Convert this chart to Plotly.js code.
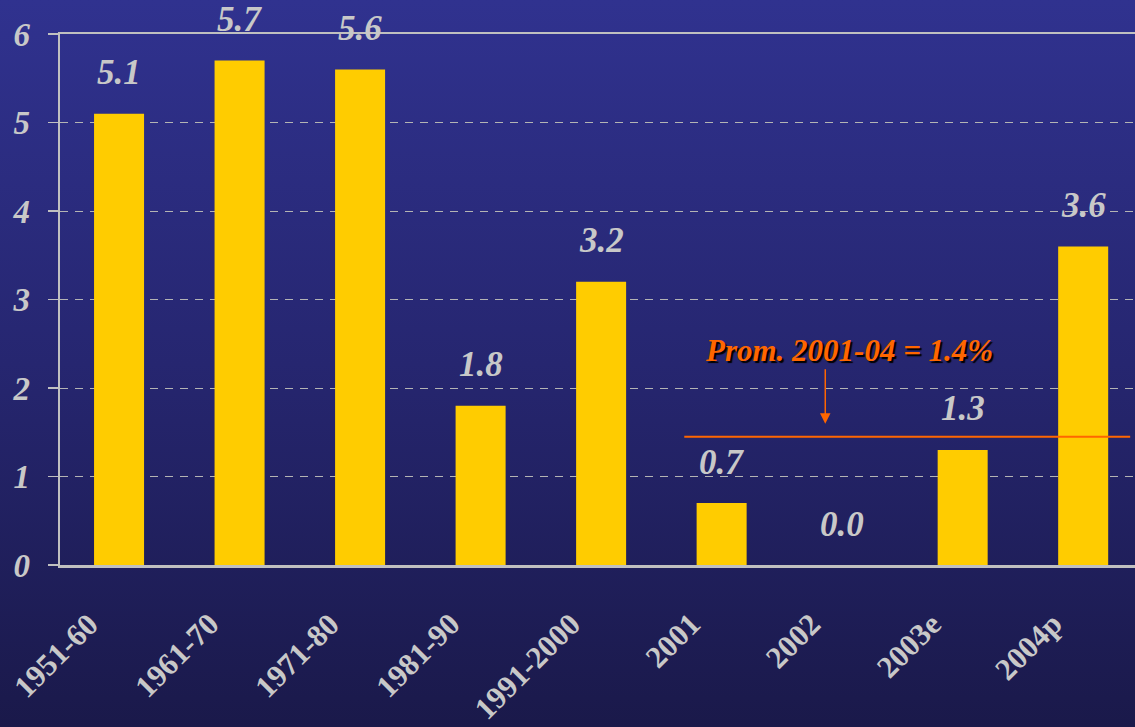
<!DOCTYPE html>
<html>
<head>
<meta charset="utf-8">
<script src="https://cdn.plot.ly/plotly-3.0.1.min.js"></script>
<style>
  html, body { margin:0; padding:0; width:1135px; height:727px; overflow:hidden;
    background: linear-gradient(to bottom, #30328F 0%, #262670 50%, #1A194A 100%); }
  #chart { width:1135px; height:727px; }
</style>
</head>
<body>
<div id="chart"></div>
<script>
const categories = ['1951-60','1961-70','1971-80','1981-90','1991-2000','2001','2002','2003e','2004p'];
const values = [5.1, 5.7, 5.6, 1.8, 3.2, 0.7, 0.0, 1.3, 3.6];
const valueLabels = ['5.1','5.7','5.6','1.8','3.2','0.7','0.0','1.3','3.6'];
const yTicks = [0,1,2,3,4,5,6];
const avgValue = 1.45;
const avgText = 'Prom. 2001-04 = 1.4%';

const gray = '#C8C8C8';
const orange = '#FF6600';
const serif = '"Liberation Serif", "Times New Roman", serif';

const idx = c => categories.indexOf(c);

const trace = {
  type: 'bar',
  x: categories.map((c,i)=>i),
  y: values,
  marker: { color: '#FFCC00', line: {width:0} },
  hoverinfo: 'none'
};

const annotations = values.map((v,i)=>({
  x: i, y: v, xref:'x', yref:'y', text: valueLabels[i], showarrow:false,
  yanchor:'middle', yshift: 41,
  font: { family: serif, size: 35, color: gray, weight: 'bold', style: 'italic' }
}));

// category labels, rotated, text end near each bar's position
categories.forEach((c,i)=>{
  annotations.push({
    x: i, y: 0, xref:'x', yref:'y', text: c, showarrow:false,
    textangle: -45, xanchor:'right', yanchor:'top',
    xshift: -13, yshift: -40, borderpad: 0,
    font: { family: serif, size: 31, color: gray, weight: 'bold' }
  });
});

annotations.push({
  x: idx('2002') - 0.14, y: avgValue, xref:'x', yref:'y', text:'', showarrow:true,
  ax: 0, ay: -69, arrowhead: 2, arrowsize: 1.4, arrowwidth: 1.5, arrowcolor: orange, standoff: 13
});
annotations.push({
  x: idx('2002') + 0.06, y: avgValue, xref:'x', yref:'y', text: avgText, showarrow:false,
  yanchor:'middle', yshift: 86,
  font: { family: serif, size: 31, color: orange, weight: 'bold', style: 'italic', shadow: '2px 2px 1px #000000' }
});

const layout = {
  width: 1135, height: 727,
  margin: { l: 60, r: 0, t: 34, b: 162 },
  paper_bgcolor: 'rgba(0,0,0,0)',
  plot_bgcolor: 'rgba(0,0,0,0)',
  bargap: 0.585,
  showlegend: false,
  xaxis: {
    range: [-0.49, 8.43],
    tickmode: 'array', tickvals: categories.map((c,i)=>i), ticktext: categories,
    showticklabels: false, ticks: '',
    showgrid: false, zeroline: false,
    showline: true, linecolor: '#C0C0C0', linewidth: 2.5, mirror: true
  },
  yaxis: {
    range: [0, 6],
    tickmode: 'array', tickvals: yTicks, ticktext: yTicks.map(String),
    ticks: 'outside', ticklen: 10, tickcolor: '#C0C0C0', tickwidth: 1.5,
    ticklabelstandoff: 11,
    tickfont: { family: serif, size: 33, color: gray, weight: 'bold', style: 'italic' },
    showgrid: true, gridcolor: '#B4B4B4', gridwidth: 1, griddash: '8px,7px',
    zeroline: false,
    showline: true, linecolor: '#C0C0C0', linewidth: 2.5
  },
  shapes: [{
    type: 'line', xref: 'x', yref: 'y',
    x0: idx('2001') - 0.31, x1: idx('2004p') + 0.39, y0: avgValue, y1: avgValue,
    line: { color: orange, width: 2 }
  }],
  annotations: annotations
};

Plotly.newPlot('chart', [trace], layout, { displayModeBar: false, staticPlot: true });
</script>
</body>
</html>
